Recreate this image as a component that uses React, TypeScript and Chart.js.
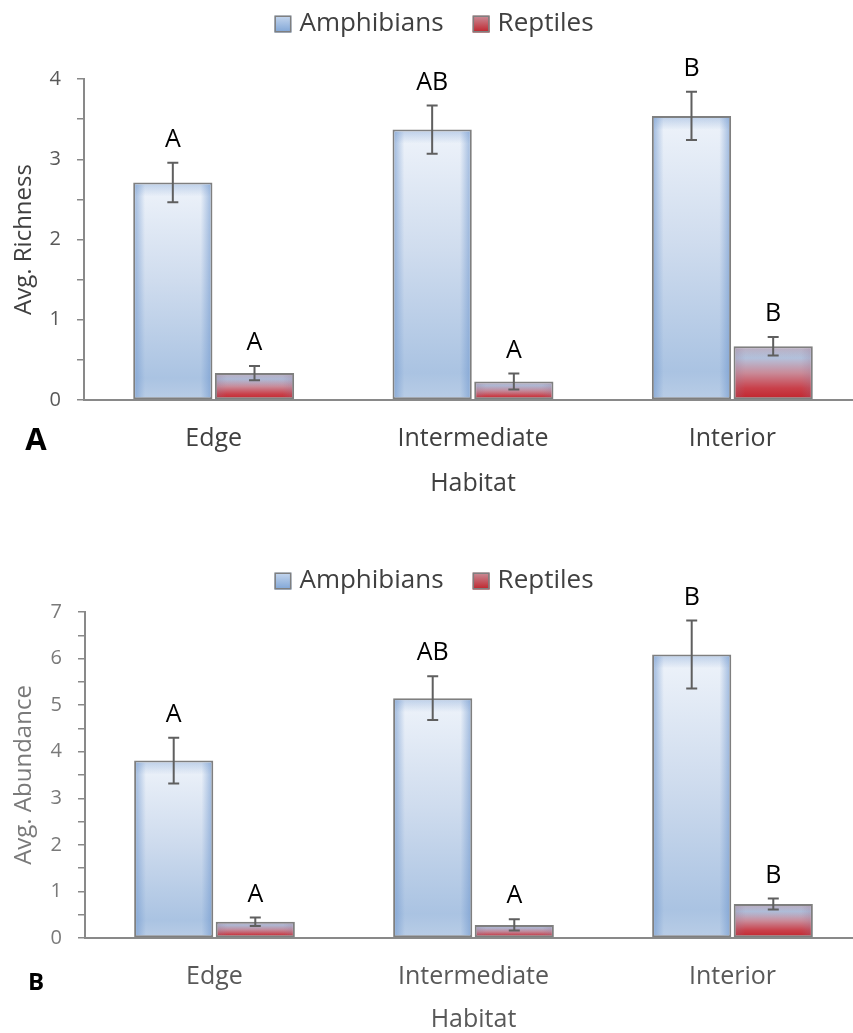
import React, { useEffect, useRef } from 'react';
import { Chart, registerables } from 'chart.js';

Chart.register(...registerables);

// ---------------- data ----------------
const categories = ['Edge', 'Intermediate', 'Interior'];
const seriesNames = ['Amphibians', 'Reptiles'];

const richnessAmphibians = [2.71, 3.37, 3.54];
const richnessAmphibiansErr = [0.245, 0.3, 0.3];
const richnessReptiles = [0.335, 0.23, 0.67];
const richnessReptilesErr = [0.09, 0.1, 0.115];

const abundanceAmphibians = [3.81, 5.15, 6.09];
const abundanceAmphibiansErr = [0.49, 0.47, 0.73];
const abundanceReptiles = [0.35, 0.28, 0.73];
const abundanceReptilesErr = [0.09, 0.12, 0.12];

const amphibianLetters = ['A', 'AB', 'B'];
const reptileLetters = ['A', 'A', 'B'];

const richnessMax = 4;
const abundanceMax = 7;
const tickStep = 0.5;

// ---------------- styles ----------------
const FONT = "'Open Sans', 'Noto Sans', sans-serif";
const AXIS_GRAY = '#898989';
const BAR_BORDER = '#7f7f7f';
const ERR_COLOR = '#5f5f5f';

const amphStops: [number, string][] = [
  [0, '#eef3fa'],
  [0.45, '#cfdcee'],
  [0.9, '#aac3e2'],
  [1, '#b9cde6'],
];
const reptStops: [number, string][] = [
  [0, '#c7bccb'],
  [0.22, '#b4c2dc'],
  [0.5, '#c98a98'],
  [0.78, '#c9404a'],
  [1, '#c0222a'],
];

const makeFill = (stops: [number, string][]) => (ctx: any) => {
  const chart = ctx.chart;
  const ys = chart.scales && chart.scales.y;
  if (!chart.chartArea || !ys || ctx.type !== 'data') return stops[stops.length - 1][1];
  const top = ys.getPixelForValue(ctx.raw);
  const bottom = ys.getPixelForValue(0);
  const g = chart.ctx.createLinearGradient(0, top, 0, bottom);
  stops.forEach(([o, c]) => g.addColorStop(o, c));
  return g;
};

interface PanelCfg {
  panel: string;
  panelFont: string;
  panelDy: number;
  yTitle: string;
  yMax: number;
  amph: number[];
  amphErr: number[];
  rept: number[];
  reptErr: number[];
  tickColor: string;
  titleColor: string;
  catColor: string;
  padTop: number;
  yWidth: number;
  xHeight: number;
  xTitlePad: number;
  legendY: number;
}

const panels: PanelCfg[] = [
  {
    panel: 'A',
    panelFont: `bold 31px ${FONT}`,
    panelDy: 41,
    yTitle: 'Avg. Richness',
    yMax: richnessMax,
    amph: richnessAmphibians,
    amphErr: richnessAmphibiansErr,
    rept: richnessReptiles,
    reptErr: richnessReptilesErr,
    tickColor: '#595959',
    titleColor: '#404040',
    catColor: '#404040',
    padTop: 79,
    yWidth: 84,
    xHeight: 120,
    xTitlePad: 21,
    legendY: 24,
  },
  {
    panel: 'B',
    panelFont: `bold 24px ${FONT}`,
    panelDy: 45,
    yTitle: 'Avg. Abundance',
    yMax: abundanceMax,
    amph: abundanceAmphibians,
    amphErr: abundanceAmphibiansErr,
    rept: abundanceReptiles,
    reptErr: abundanceReptilesErr,
    tickColor: '#7a7a7a',
    titleColor: '#7a7a7a',
    catColor: '#595959',
    padTop: 92,
    yWidth: 85,
    xHeight: 102,
    xTitlePad: 5,
    legendY: 61,
  },
];

const CANVAS_W = 862;
const CANVAS_H = 520;

function makePlugin(cfg: PanelCfg) {
  return {
    id: 'decor' + cfg.panel,
    afterDatasetsDraw(chart: any) {
      const ctx = chart.ctx as CanvasRenderingContext2D;
      const ys = chart.scales.y;
      ctx.save();
      chart.data.datasets.forEach((ds: any, di: number) => {
        const meta = chart.getDatasetMeta(di);
        meta.data.forEach((bar: any, i: number) => {
          const p = bar.getProps(['x', 'y', 'base', 'width'], true);
          const l = p.x - p.width / 2 + 2;
          const r = p.x + p.width / 2 - 2;
          const t = p.y + 2;
          const b = p.base - 2;
          if (b - t > 1) {
            // side shading
            const hg = ctx.createLinearGradient(l, 0, r, 0);
            const edge = di === 0 ? 'rgba(110,150,205,0.55)' : 'rgba(150,120,150,0.25)';
            const clear = di === 0 ? 'rgba(110,150,205,0)' : 'rgba(150,120,150,0)';
            hg.addColorStop(0, edge);
            hg.addColorStop(0.13, clear);
            hg.addColorStop(0.87, clear);
            hg.addColorStop(1, edge);
            ctx.fillStyle = hg;
            ctx.fillRect(l, t, r - l, b - t);
            // top shading
            const vg = ctx.createLinearGradient(0, t, 0, t + 12);
            vg.addColorStop(0, di === 0 ? 'rgba(110,150,205,0.35)' : 'rgba(150,120,150,0.2)');
            vg.addColorStop(1, 'rgba(110,150,205,0)');
            ctx.fillStyle = vg;
            ctx.fillRect(l, t, r - l, Math.min(12, b - t));
          }
          // error bar
          const v = ds.data[i];
          const e = ds.errors[i];
          const yHi = ys.getPixelForValue(v + e);
          const yLo = ys.getPixelForValue(v - e);
          ctx.strokeStyle = ERR_COLOR;
          ctx.lineWidth = 2;
          ctx.beginPath();
          ctx.moveTo(p.x, yHi);
          ctx.lineTo(p.x, yLo);
          ctx.moveTo(p.x - 5.5, yHi);
          ctx.lineTo(p.x + 5.5, yHi);
          ctx.moveTo(p.x - 5.5, yLo);
          ctx.lineTo(p.x + 5.5, yLo);
          ctx.stroke();
          // significance letter
          ctx.fillStyle = '#000000';
          ctx.font = `25px ${FONT}`;
          ctx.textAlign = 'center';
          ctx.textBaseline = 'middle';
          ctx.fillText(ds.letters[i], p.x, yHi - 23);
        });
      });
      ctx.restore();
    },
    afterDraw(chart: any) {
      const ctx = chart.ctx as CanvasRenderingContext2D;
      ctx.save();
      // panel letter
      ctx.fillStyle = '#000000';
      ctx.font = cfg.panelFont;
      ctx.textAlign = 'center';
      ctx.textBaseline = 'middle';
      ctx.fillText(cfg.panel, 36, chart.scales.x.top + cfg.panelDy);
      // legend
      ctx.font = `26px ${FONT}`;
      const box = 17;
      const gapText = 8;
      const gapItem = 29;
      const widths = seriesNames.map((n) => ctx.measureText(n).width);
      const total = widths.reduce((a, w) => a + box + gapText + w, 0) + gapItem * (seriesNames.length - 1);
      let x = chart.width / 2 + 3 - total / 2;
      const yc = cfg.legendY;
      seriesNames.forEach((name, k) => {
        const g = ctx.createLinearGradient(0, yc - box / 2, 0, yc + box / 2);
        if (k === 0) {
          g.addColorStop(0, '#c6d7ee');
          g.addColorStop(1, '#7fa5d6');
        } else {
          g.addColorStop(0, '#c98f9a');
          g.addColorStop(1, '#c0222a');
        }
        ctx.fillStyle = g;
        ctx.fillRect(x, yc - box / 2, box, box);
        ctx.strokeStyle = BAR_BORDER;
        ctx.lineWidth = 1.5;
        ctx.strokeRect(x + 0.75, yc - box / 2 + 0.75, box - 1.5, box - 1.5);
        ctx.fillStyle = '#404040';
        ctx.textAlign = 'left';
        ctx.textBaseline = 'middle';
        ctx.fillText(name, x + box + gapText, yc);
        x += box + gapText + widths[k] + gapItem;
      });
      ctx.restore();
    },
  };
}

function Panel({ cfg, top }: { cfg: PanelCfg; top: number }) {
  const ref = useRef<HTMLCanvasElement | null>(null);
  useEffect(() => {
    if (!ref.current) return;
    const chart = new Chart(ref.current, {
      type: 'bar',
      data: {
        labels: categories,
        datasets: [
          {
            label: seriesNames[0],
            data: cfg.amph,
            errors: cfg.amphErr,
            letters: amphibianLetters,
            backgroundColor: makeFill(amphStops),
            borderColor: BAR_BORDER,
            borderWidth: 2,
            borderSkipped: false,
            categoryPercentage: 0.63,
            barPercentage: 0.97,
          } as any,
          {
            label: seriesNames[1],
            data: cfg.rept,
            errors: cfg.reptErr,
            letters: reptileLetters,
            backgroundColor: makeFill(reptStops),
            borderColor: BAR_BORDER,
            borderWidth: 2,
            borderSkipped: false,
            categoryPercentage: 0.63,
            barPercentage: 0.97,
          } as any,
        ],
      },
      options: {
        responsive: false,
        animation: false,
        devicePixelRatio: 1,
        layout: { padding: { top: cfg.padTop, right: 0, bottom: 0, left: 0 } },
        plugins: {
          legend: { display: false },
          tooltip: { enabled: false },
          title: { display: false },
        },
        scales: {
          x: {
            grid: { display: false, drawTicks: false },
            border: { display: true, color: AXIS_GRAY, width: 2 },
            ticks: {
              color: cfg.catColor,
              font: { family: FONT, size: 25 },
              padding: 24,
              maxRotation: 0,
              autoSkip: false,
            },
            title: {
              display: true,
              text: 'Habitat',
              color: cfg.catColor,
              font: { family: FONT, size: 25 },
              padding: { top: 0, bottom: cfg.xTitlePad },
            },
            afterFit: (s: any) => {
              s.height = cfg.xHeight;
            },
          },
          y: {
            min: 0,
            max: cfg.yMax,
            grid: {
              display: true,
              drawOnChartArea: false,
              drawTicks: true,
              tickLength: 7,
              color: AXIS_GRAY,
              lineWidth: 1.5,
            },
            border: { display: true, color: AXIS_GRAY, width: 2 },
            ticks: {
              stepSize: tickStep,
              maxTicksLimit: 30,
              autoSkip: false,
              color: cfg.tickColor,
              font: { family: FONT, size: 20 },
              padding: 16,
              callback: (v: any) => (Number.isInteger(v) ? String(v) : ''),
            },
            title: {
              display: true,
              text: cfg.yTitle,
              color: cfg.titleColor,
              font: { family: FONT, size: 24 },
              padding: { top: 10, bottom: 0 },
            },
            afterFit: (s: any) => {
              s.width = cfg.yWidth;
            },
          },
        },
      } as any,
      plugins: [makePlugin(cfg)],
    });
    return () => chart.destroy();
  }, [cfg]);
  return (
    <canvas
      ref={ref}
      width={CANVAS_W}
      height={CANVAS_H}
      style={{ position: 'absolute', left: 0, top, width: CANVAS_W, height: CANVAS_H, display: 'block' }}
    />
  );
}

export default function App() {
  return (
    <div
      style={{
        position: 'absolute',
        left: 0,
        top: 0,
        width: 853,
        height: 1033,
        overflow: 'hidden',
        background: '#ffffff',
      }}
    >
      <Panel cfg={panels[0]} top={0} />
      <Panel cfg={panels[1]} top={520} />
    </div>
  );
}
